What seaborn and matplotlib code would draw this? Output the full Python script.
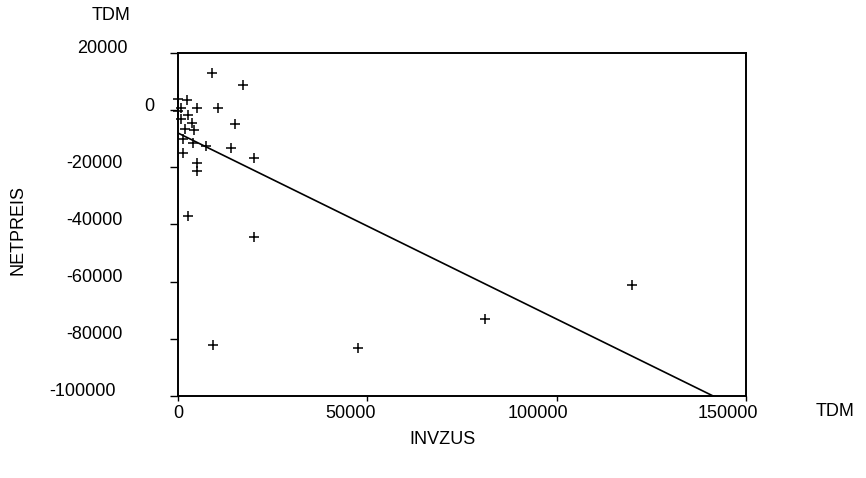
import matplotlib
matplotlib.use("Agg")
import matplotlib.pyplot as plt
import matplotlib.transforms as mtransforms
import pandas as pd
import seaborn as sns

# values (TDM)
invzus = [9100, 17100, 0, 2500, 800, 0, 5100, 10500, 2600, 900,
          3700, 15000, 1800, 4100, 1200, 3900, 7400, 14100, 1200, 20100,
          5100, 5100, 2600, 20200, 9200, 47500, 81100, 120000]
netpreis = [12900, 8700, 3800, 3400, 900, -200, 900, 700, -1700, -3200,
            -4600, -4800, -6500, -6900, -10000, -11400, -12500, -13100, -15100, -16600,
            -18400, -21300, -37200, -44500, -82300, -83200, -73100, -61300]

# fitted line
fit_intercept = -8000
fit_slope = -0.651

x_ticks = [0, 50000, 100000, 150000]
y_ticks = [20000, 0, -20000, -40000, -60000, -80000, -100000]

sns.set_style("white")
plt.rcParams["font.family"] = ["Liberation Sans", "DejaVu Sans"]
plt.rcParams["text.color"] = "black"

fig = plt.figure(figsize=(8.66, 4.78), dpi=100)
ax = fig.add_axes([178 / 866, 1 - 396 / 478, 568 / 866, 343 / 478])

df = pd.DataFrame({"INVZUS": invzus, "NETPREIS": netpreis})
sns.scatterplot(data=df, x="INVZUS", y="NETPREIS", marker="+", color="black",
                s=42, linewidth=1.1, ax=ax, legend=False, clip_on=False)

line_x = [x_ticks[0], x_ticks[-1]]
line_y = [fit_intercept + fit_slope * v for v in line_x]
sns.lineplot(x=line_x, y=line_y, color="black", linewidth=1.2, ax=ax)

ax.set_xlim(0, 150000)
ax.set_ylim(-100000, 20000)
ax.set_xticks(x_ticks)
ax.set_xticklabels([str(v) for v in x_ticks])
ax.set_yticks(y_ticks)
ax.set_yticklabels([str(v) for v in y_ticks])
ax.set_xlabel("")
ax.set_ylabel("")

for sp in ax.spines.values():
    sp.set_color("black")
    sp.set_linewidth(1.4)

ax.tick_params(axis="y", left=True, direction="out", length=6, width=1,
               labelsize=13, pad=34, colors="black")
ax.tick_params(axis="x", bottom=True, direction="out", length=3.5, width=1,
               labelsize=13, pad=3, colors="black")

# scanned output: labels sit a little off their ticks
y_dx = [5, 32, 0, 0, 0, 0, -7]
for lab, dx in zip(ax.get_yticklabels(), y_dx):
    off = mtransforms.ScaledTranslation(dx / 100, 6 / 100, fig.dpi_scale_trans)
    lab.set_transform(lab.get_transform() + off)
x_dx = [0, -17, -19, -18]
for lab, dx in zip(ax.get_xticklabels(), x_dx):
    off = mtransforms.ScaledTranslation(dx / 100, 0, fig.dpi_scale_trans)
    lab.set_transform(lab.get_transform() + off)

fig.text(111 / 866, 1 - 15 / 478, "TDM", fontsize=13, ha="center", va="center")
fig.text(835 / 866, 1 - 412 / 478, "TDM", fontsize=13, ha="center", va="center")
fig.text(18 / 866, 1 - 230 / 478, "NETPREIS", fontsize=13, rotation=90,
         ha="center", va="center")
fig.text(443 / 866, 1 - 440 / 478, "INVZUS", fontsize=13, ha="center", va="center")

fig.savefig("out.png", dpi=100)
